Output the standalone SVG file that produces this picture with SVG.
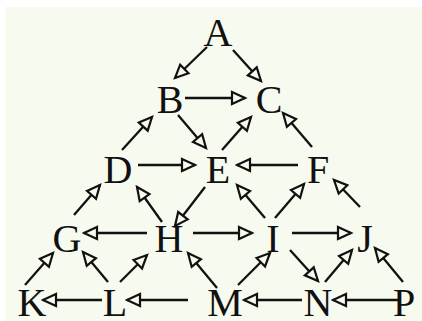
<svg xmlns="http://www.w3.org/2000/svg" width="422" height="321" viewBox="0 0 422 321">
<defs>
<style>
.n{font-family:"Liberation Serif","Times New Roman",serif;font-size:40px;fill:#111;text-anchor:middle}
.e{stroke:#111;stroke-width:2.3;fill:none;marker-end:url(#ah)}
</style>
<marker id="ah" markerUnits="userSpaceOnUse" markerWidth="18" markerHeight="16" viewBox="-2 -2 17 16" refX="13" refY="6" orient="auto">
<path d="M0,0 L13,6 L0,12 Z" fill="#f7faee" stroke="#111" stroke-width="2.2" stroke-linejoin="miter"/>
</marker>
</defs>
<rect width="422" height="321" fill="#ffffff"/>
<rect x="5" y="7" width="417" height="314" fill="#f7faee"/>
<g id="connectors">
<line class="e" x1="207" y1="47" x2="175" y2="78"/>
<line class="e" x1="233" y1="50" x2="261" y2="81"/>
<line class="e" x1="185" y1="98" x2="245" y2="98"/>
<line class="e" x1="122" y1="150" x2="152" y2="117"/>
<line class="e" x1="178" y1="115" x2="206" y2="148"/>
<line class="e" x1="222" y1="150" x2="251" y2="117"/>
<line class="e" x1="312" y1="147" x2="283" y2="113"/>
<line class="e" x1="138" y1="165" x2="195" y2="165"/>
<line class="e" x1="298" y1="165" x2="237" y2="165"/>
<line class="e" x1="205" y1="187" x2="175" y2="226"/>
<line class="e" x1="162" y1="222" x2="137" y2="187"/>
<line class="e" x1="265" y1="218" x2="237" y2="185"/>
<line class="e" x1="275" y1="218" x2="304" y2="184"/>
<line class="e" x1="74" y1="215" x2="100" y2="185"/>
<line class="e" x1="360" y1="207" x2="334" y2="180"/>
<line class="e" x1="147" y1="233" x2="84" y2="233"/>
<line class="e" x1="193" y1="233" x2="252" y2="233"/>
<line class="e" x1="292" y1="233" x2="351" y2="233"/>
<line class="e" x1="290" y1="250" x2="318" y2="281"/>
<line class="e" x1="25" y1="285" x2="53" y2="253"/>
<line class="e" x1="108" y1="282" x2="83" y2="252"/>
<line class="e" x1="120" y1="282" x2="147" y2="255"/>
<line class="e" x1="217" y1="288" x2="188" y2="253"/>
<line class="e" x1="238" y1="285" x2="270" y2="253"/>
<line class="e" x1="325" y1="282" x2="352" y2="250"/>
<line class="e" x1="403" y1="282" x2="375" y2="248"/>
<line class="e" x1="102" y1="300" x2="43" y2="300"/>
<line class="e" x1="188" y1="300" x2="127" y2="300"/>
<line class="e" x1="302" y1="300" x2="244" y2="300"/>
<line class="e" x1="401" y1="300" x2="333" y2="300"/>
</g>
<g id="A"><text class="n" x="218" y="46">A</text></g>
<g id="B"><text class="n" x="170" y="113">B</text></g>
<g id="C"><text class="n" x="269" y="113">C</text></g>
<g id="D"><text class="n" x="118" y="183">D</text></g>
<g id="E"><text class="n" x="218" y="183">E</text></g>
<g id="F"><text class="n" x="318" y="183">F</text></g>
<g id="G"><text class="n" x="67" y="252">G</text></g>
<g id="H"><text class="n" x="169" y="252">H</text></g>
<g id="I"><text class="n" x="273" y="252">I</text></g>
<g id="J"><text class="n" x="365" y="252">J</text></g>
<g id="K"><text class="n" x="32" y="316">K</text></g>
<g id="L"><text class="n" x="115" y="316">L</text></g>
<g id="M"><text class="n" x="225" y="316">M</text></g>
<g id="N"><text class="n" x="318" y="316">N</text></g>
<g id="P"><text class="n" x="404" y="316">P</text></g>
</svg>
